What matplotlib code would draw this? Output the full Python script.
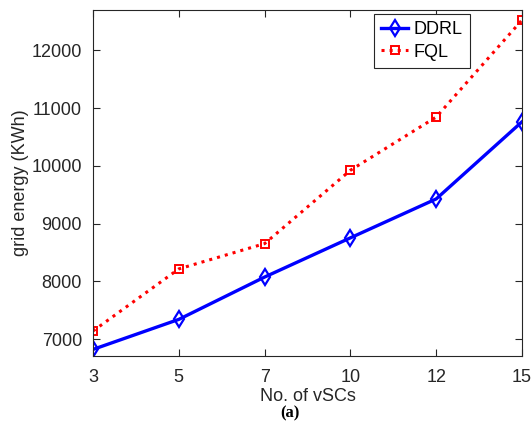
import matplotlib.pyplot as plt

# data
vscs = ['3', '5', '7', '10', '12', '15']
ddrl = [6823, 7343, 8076, 8755, 9429, 10765]
fql = [7142, 8217, 8655, 9925, 10847, 12526]

plt.rcParams['font.family'] = ['Liberation Sans', 'DejaVu Sans']

fig = plt.figure(figsize=(5.32, 4.22), dpi=100)
ax = fig.add_axes([93 / 532, 1 - 355.6 / 422, (522 - 93) / 532, (355.6 - 9.5) / 422])

x = list(range(len(vscs)))
ax.plot(x, ddrl, color='#0000ff', lw=2.4, marker='d', ms=8, mfc='none', mew=1.6, label='DDRL')
ax.plot(x, fql, color='#ff0000', lw=2.2, ls=':', marker='s', ms=6, mfc='none', mew=1.4, label='FQL')

grey = '#262626'
ax.set_xlim(0, len(vscs) - 1)
ax.set_ylim(6716, 12709)
ax.set_xticks(x)
ax.set_xticklabels(vscs)
ax.set_yticks([7000, 8000, 9000, 10000, 11000, 12000])
ax.tick_params(axis='x', pad=10)
ax.tick_params(axis='y', pad=8)
ax.tick_params(direction='in', top=True, right=True, labelsize=13, colors=grey, length=5)
for s in ax.spines.values():
    s.set_color(grey)
    s.set_linewidth(0.8)

ax.set_xlabel('No. of vSCs', fontsize=13, color=grey, labelpad=1)
ax.set_ylabel('grid energy (KWh)', fontsize=13, color=grey, labelpad=2)

leg = ax.legend(loc='upper right', bbox_to_anchor=(0.879, 0.987), borderaxespad=0, fontsize=13,
                numpoints=1, handlelength=1.5, handletextpad=0.3, borderpad=0.4, labelspacing=0.3,
                fancybox=False, edgecolor=grey, framealpha=1)
leg.get_frame().set_linewidth(0.8)

fig.text(290 / 532, 0.5 / 422, '(a)', ha='center', va='bottom', fontsize=12,
         fontweight='bold', family=['Liberation Serif', 'DejaVu Serif'])

fig.savefig('out.png', dpi=100)
